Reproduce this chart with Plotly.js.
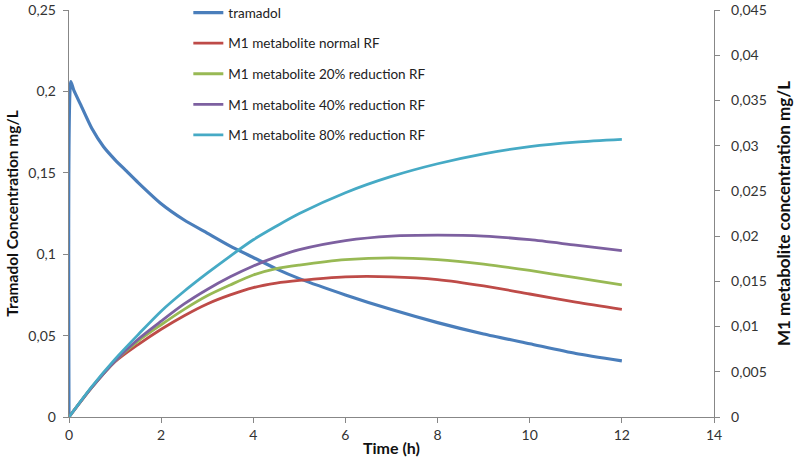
<!DOCTYPE html>
<html>
<head>
<meta charset="utf-8">
<script src="https://cdn.plot.ly/plotly-3.0.1.min.js"></script>
<style>html,body{margin:0;padding:0;background:#fff;}#chart{width:800px;height:471px;}</style>
</head>
<body>
<div id="chart"></div>
<script>
// Time points (h)
var timeTramadol = [0, 0.04, 0.1, 0.25, 0.5, 0.75, 1, 1.25, 1.5, 2, 2.5, 3, 3.5, 4, 4.5, 5, 6, 7, 8, 9, 10, 11, 12];
var tramadol     = [0, 0.206, 0.201, 0.192, 0.177, 0.166, 0.158, 0.151, 0.144, 0.131, 0.121, 0.113, 0.105, 0.098, 0.091, 0.085, 0.075, 0.066, 0.058, 0.051, 0.045, 0.039, 0.0345];

var timeM1 = [0, 0.5, 1, 1.5, 2, 2.5, 3, 3.5, 4, 4.5, 5, 6, 7, 8, 9, 10, 11, 12];
var m1Normal = [0, 0.0033, 0.0061, 0.0080, 0.0097, 0.0112, 0.0125, 0.0135, 0.0143, 0.0148, 0.0151, 0.0155, 0.0155, 0.0152, 0.0145, 0.0136, 0.0127, 0.0119];
var m1Red20  = [0, 0.0033, 0.0062, 0.0084, 0.0102, 0.0119, 0.0134, 0.0146, 0.0157, 0.0164, 0.0168, 0.0174, 0.0176, 0.0174, 0.0169, 0.0162, 0.0154, 0.0146];
var m1Red40  = [0, 0.0033, 0.0062, 0.0086, 0.0106, 0.0125, 0.0141, 0.0155, 0.0167, 0.0177, 0.0185, 0.0195, 0.0200, 0.0201, 0.0200, 0.0196, 0.0190, 0.0184];
var m1Red80  = [0, 0.0034, 0.0064, 0.0091, 0.0117, 0.0139, 0.0159, 0.0178, 0.0196, 0.0211, 0.0225, 0.0248, 0.0266, 0.0280, 0.0291, 0.0299, 0.0304, 0.0307];

var seriesNames = ["tramadol", "M1 metabolite normal RF", "M1 metabolite 20% reduction RF", "M1 metabolite 40% reduction RF", "M1 metabolite 80% reduction RF"];
var seriesColors = ["#4A7EBB", "#BE4B48", "#98B954", "#7D60A0", "#46AAC5"];

var xTicks = [0, 2, 4, 6, 8, 10, 12, 14];
var yLeftTicks = [0, 0.05, 0.1, 0.15, 0.2, 0.25];
var yRightTicks = [0, 0.005, 0.01, 0.015, 0.02, 0.025, 0.03, 0.035, 0.04, 0.045];

var m1Data = [m1Normal, m1Red20, m1Red40, m1Red80];

var traces = [{
  x: timeTramadol, y: tramadol, type: "scatter", mode: "lines",
  name: seriesNames[0], legendgroup: "g0",
  line: {color: seriesColors[0], width: 3.2, shape: "spline", smoothing: 0.6}, yaxis: "y"
}];
m1Data.forEach(function(d, i) {
  traces.push({
    x: timeM1, y: d, type: "scatter", mode: "lines",
    name: seriesNames[i + 1], legendgroup: "g" + (i + 1),
    line: {color: seriesColors[i + 1], width: 2.8, shape: "spline", smoothing: 0.8},
    yaxis: "y2"
  });
});

var FONT = "Lato, 'Open Sans', sans-serif";
var axisCommon = {
  showgrid: false, zeroline: false, showline: true, linecolor: "#878787", linewidth: 1.3,
  ticks: "outside", ticklen: 5, tickcolor: "#878787", tickwidth: 1,
  tickfont: {family: FONT, size: 14, color: "#333"}
};

var layout = {
  width: 800, height: 471,
  margin: {l: 69, r: 86, t: 10, b: 54, autoexpand: false},
  separators: ",.",
  paper_bgcolor: "#fff", plot_bgcolor: "#fff",
  font: {family: FONT, color: "#222"},
  showlegend: true,
  legend: {
    x: 0.185, y: 1.031, xanchor: "left", yanchor: "top",
    bgcolor: "rgba(0,0,0,0)", tracegroupgap: 10,
    font: {family: FONT, size: 13.5, color: "#222"}
  },
  xaxis: Object.assign({}, axisCommon, {
    range: [0, 14], tickvals: xTicks, ticktext: xTicks.map(String),
    title: {text: "<b>Time (h)</b>", font: {size: 16, color: "#111"}, standoff: 0}
  }),
  yaxis: Object.assign({}, axisCommon, {
    range: [0, 0.25], tickvals: yLeftTicks, ticklabelstandoff: 4,
    title: {text: "<b>Tramadol Concentration mg/L</b>", font: {size: 15.5, color: "#111"}, standoff: 6}
  }),
  yaxis2: Object.assign({}, axisCommon, {
    range: [0, 0.045], tickvals: yRightTicks, overlaying: "y", side: "right", ticklabelstandoff: 8,
    title: {text: "<b>M1 metabolite concentration mg/L</b>", font: {size: 17, color: "#111"}, standoff: 12}
  })
};

Plotly.newPlot("chart", traces, layout, {displayModeBar: false, staticPlot: true});
</script>
</body>
</html>
